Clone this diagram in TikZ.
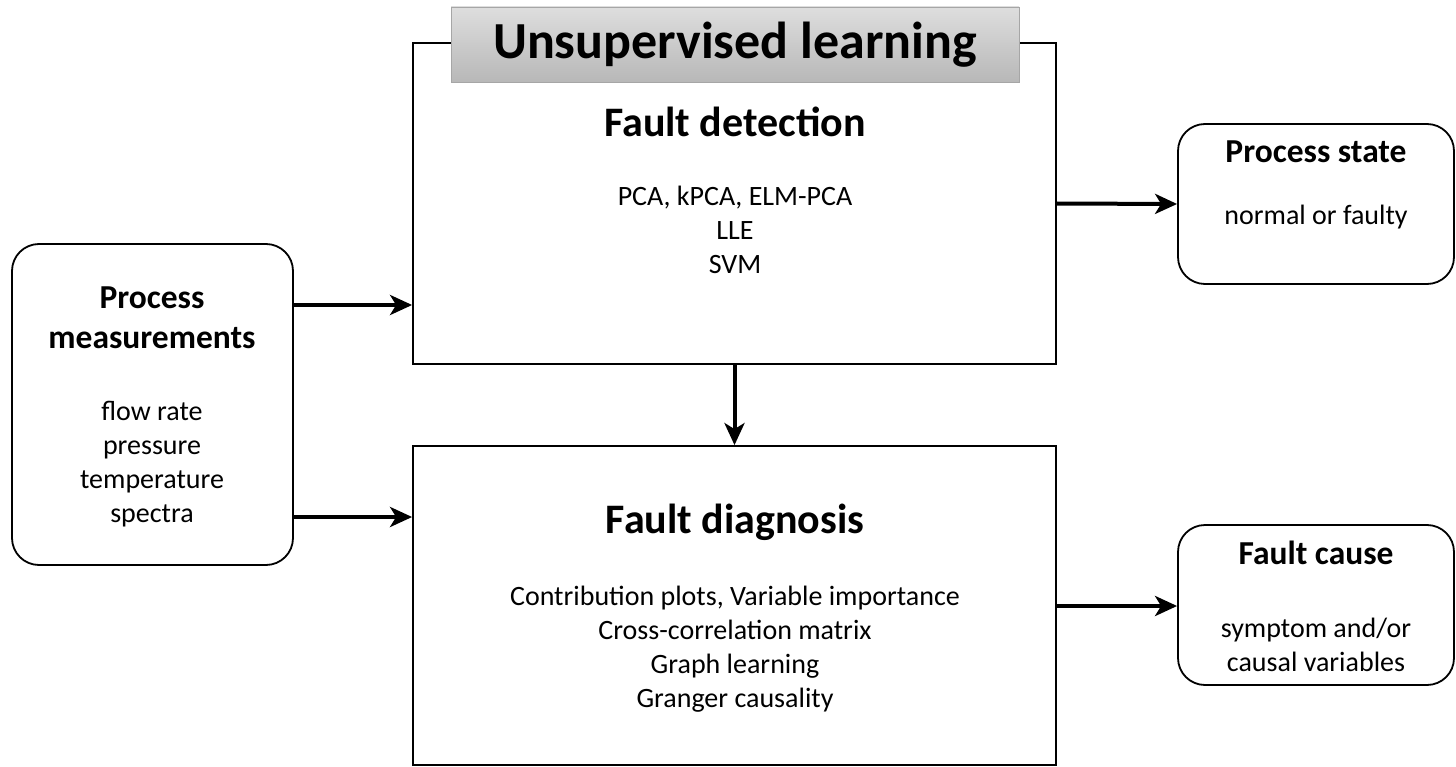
\documentclass[tikz,border=0pt]{standalone}
\usepackage{fontspec}
\setmainfont{Carlito}
\usetikzlibrary{arrows.meta,calc}
\begin{document}
\begin{tikzpicture}[x=1pt,y=-1pt,
  box/.style={draw=black,line width=1.8pt,inner sep=0pt},
  rbox/.style={box,rounded corners=27pt},
  titlebox/.style={draw=gray!70,line width=0.8pt,top color=black!13,bottom color=black!28,inner sep=0pt,font=\fontsize{52}{56}\selectfont\bfseries},
  head/.style={font=\fontsize{42}{48}\selectfont\bfseries,align=center,inner sep=0pt},
  shead/.style={font=\fontsize{33.5}{40}\selectfont\bfseries,align=center,inner sep=0pt},
  body/.style={font=\fontsize{28}{34}\selectfont,align=center,inner sep=0pt},
  arr/.style={line width=4pt,-{Stealth[length=22pt,width=20pt,inset=6pt]}}]
\useasboundingbox (0,0) rectangle (1456,767);
% main boxes
\node[box,minimum width=643pt,minimum height=321pt] (det) at (734.5,203.5) {};
\node[box,minimum width=643pt,minimum height=319pt] (diag) at (734.5,605.5) {};
\node[rbox,minimum width=281pt,minimum height=321pt] (meas) at (152.5,404.5) {};
\node[rbox,minimum width=276pt,minimum height=160pt] (state) at (1316,204) {};
\node[rbox,minimum width=276pt,minimum height=160pt] (cause) at (1316,605) {};
% title
\node[titlebox,minimum width=568pt,minimum height=75pt] (title) at (735,44.5) {\raisebox{-2pt}{Unsupervised learning}};
% texts
\node[head] (dethead) at (735,122) {Fault detection};
\node[body] (detbody) at (735,230) {PCA, kPCA, ELM-PCA\\LLE\\SVM};
\node[head] (diaghead) at (735,522) {Fault diagnosis};
\node[body] (diagbody) at (735,649) {Contribution plots, Variable importance\\Cross-correlation matrix\\Graph learning\\Granger causality};
\node[shead] (meashead) at (152,318) {Process\\measurements};
\node[body] (measbody) at (152,464) {flow rate\\pressure\\temperature\\spectra};
\node[shead] (statehead) at (1316,152) {Process state};
\node[body] (statebody) at (1316,217) {normal or faulty};
\node[shead] (causehead) at (1316,553) {Fault cause};
\node[body] (causebody) at (1316,645) {symptom and/or\\causal variables};
% connectors
\coordinate (y1) at (0,305);
\coordinate (y2) at (0,517);
\coordinate (y3) at (0,606);
\draw[arr] (meas.east |- y1) -- (det.west |- y1);
\draw[arr] (meas.east |- y2) -- (diag.west |- y2);
\draw[arr] (det.east) -- (state.west);
\draw[arr] (diag.east |- y3) -- (cause.west |- y3);
\draw[arr] (det.south) -- (diag.north);
\end{tikzpicture}
\end{document}
